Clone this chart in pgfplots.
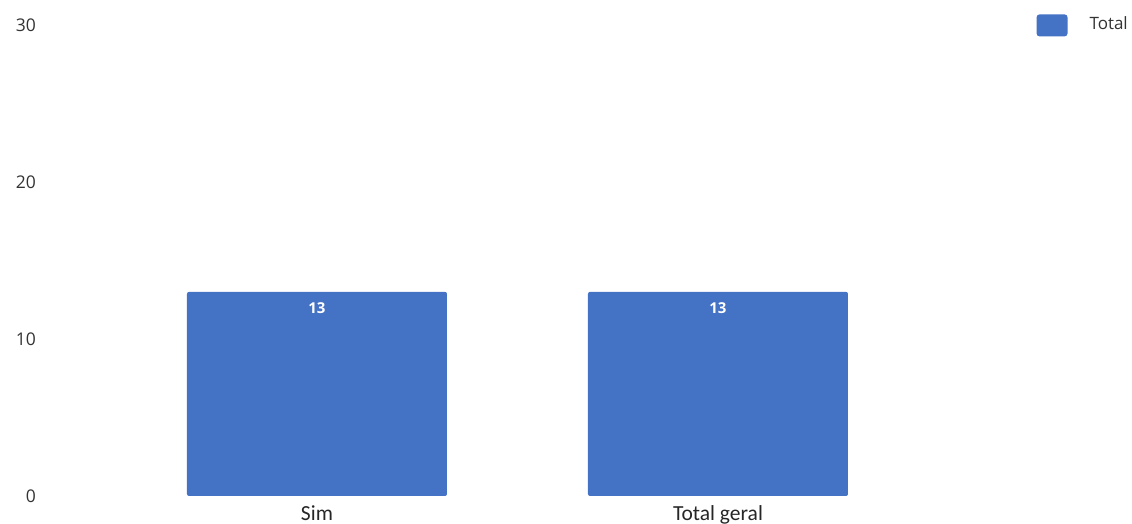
\documentclass[border=0pt]{standalone}
\usepackage{pgfplots}
\pgfplotsset{compat=1.18}
\usepackage{fontspec}
\setmainfont{Open Sans}
\newfontfamily\carlito{Carlito}
\definecolor{barblue}{HTML}{4472C4}
\definecolor{tickgray}{HTML}{333333}
\begin{document}
\begin{tikzpicture}
\begin{axis}[
  scale only axis, width=1080pt, height=471pt,
  at={(0pt,0pt)}, anchor=south west,
  xmin=-0.6658, xmax=2.0274, ymin=0, ymax=30,
  xtick={0,1}, xticklabels={Sim, Total geral},
  ytick={0,10,20,30},
  axis line style={draw=none}, major tick length=0pt,
  /pgf/number format/assume math mode=true,
  yticklabel style={anchor=east, inner sep=0pt, xshift=-14pt, text=tickgray, font=\fontsize{17.5}{20}\selectfont},
  xticklabel style={anchor=base, inner sep=0pt, yshift=-24.5pt, text=black!85, font=\carlito\fontsize{21.5}{26}\selectfont},
  ybar, bar width=260pt,
  legend style={draw=none, fill=none, inner sep=0pt, at={(1,1)}, anchor=north east,
    xshift=0pt, yshift=11pt, text=tickgray, font=\fontsize{17}{20}\selectfont},
  legend image code/.code={\fill[barblue, rounded corners=3pt] (0pt,-13pt) rectangle (31pt,9pt);
    \path[draw=none, fill=none] (0pt,-1pt) rectangle (51pt,1pt);},
]
\addplot[fill=barblue, draw=none, rounded corners=2pt,
  nodes near coords,
  nodes near coords style={anchor=center, yshift=-16pt, text=white, font=\bfseries\fontsize{15}{18}\selectfont}]
  coordinates {(0,13) (1,13)};
\addlegendentry{Total}
\end{axis}
\pgfresetboundingbox
\useasboundingbox (-50pt,-28pt) rectangle (1082pt,496pt);
\end{tikzpicture}
\end{document}
